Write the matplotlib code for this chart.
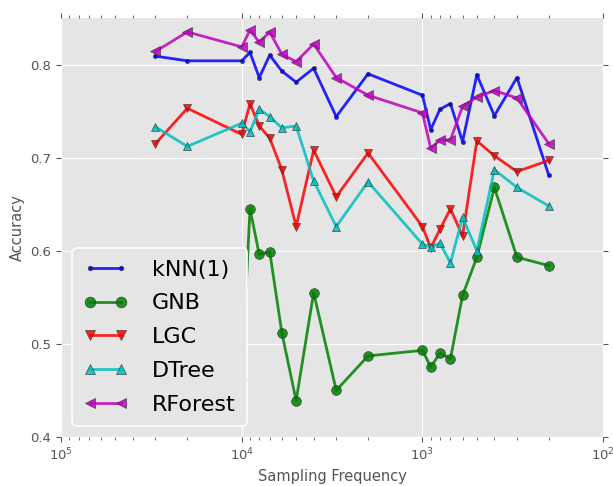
import numpy as np
import matplotlib
matplotlib.use("Agg")
import matplotlib.pyplot as plt

plt.style.use("ggplot")

freqs = [30000, 20000, 10000, 9000, 8000, 7000, 6000, 5000, 4000, 3000,
         2000, 1000, 900, 800, 700, 600, 500, 400, 300, 200]

knn = [0.809, 0.804, 0.804, 0.813, 0.786, 0.810, 0.793, 0.781, 0.796, 0.744,
       0.790, 0.767, 0.730, 0.752, 0.758, 0.717, 0.789, 0.745, 0.786, 0.681]
gnb = [0.455, 0.445, 0.461, 0.645, 0.596, 0.599, 0.512, 0.439, 0.555, 0.450,
       0.487, 0.493, 0.475, 0.490, 0.484, 0.552, 0.593, 0.668, 0.593, 0.584]
lgc = [0.715, 0.753, 0.725, 0.758, 0.734, 0.721, 0.687, 0.626, 0.708, 0.658,
       0.705, 0.626, 0.603, 0.623, 0.645, 0.616, 0.718, 0.702, 0.685, 0.697]
dtree = [0.733, 0.712, 0.737, 0.728, 0.752, 0.744, 0.732, 0.734, 0.675, 0.626,
         0.674, 0.607, 0.604, 0.608, 0.587, 0.636, 0.600, 0.687, 0.668, 0.648]
rforest = [0.814, 0.835, 0.819, 0.837, 0.824, 0.835, 0.811, 0.803, 0.822, 0.786,
           0.767, 0.748, 0.710, 0.719, 0.719, 0.755, 0.765, 0.772, 0.764, 0.715]

names = ["kNN(1)", "GNB", "LGC", "DTree", "RForest"]
series = [knn, gnb, lgc, dtree, rforest]
cl = ["#0000ff", "#008000", "#ff0000", "#00bfbf", "#bf00bf"]
mk = [".", "o", "v", "^", "<"]
ms = [6, 7, 6, 6, 7]

fig = plt.figure(figsize=(6.13, 4.86), dpi=100)
ax = fig.add_axes([0.0995, 0.101, 0.8845, 0.862])

for i in range(len(names)):
    ax.plot(freqs, series[i], marker=mk[i], color=cl[i], label=names[i],
            linewidth=2, markersize=ms[i], markeredgecolor="#333333",
            markeredgewidth=0.5, alpha=0.85)

ax.set_xscale("log")
ax.set_xlim(1e5, 1e2)
ax.set_ylim(0.4, 0.85)
ax.set_yticks([0.4, 0.5, 0.6, 0.7, 0.8])
ax.tick_params(axis="both", which="both", direction="out", colors="#555555",
               labelsize=9.5, top=True, right=True)
ax.set_xlabel("Sampling Frequency", fontsize=10.5, color="#555555")
ax.set_ylabel("Accuracy", fontsize=10.5, color="#555555")
for s in ax.spines.values():
    s.set_visible(False)

leg = ax.legend(loc="lower left", fontsize=16, numpoints=2, framealpha=1,
                handlelength=2.0, handletextpad=1.1, borderaxespad=0.5,
                labelspacing=0.62, borderpad=0.5, markerscale=1.1)
leg.get_frame().set_facecolor("#e5e5e5")
leg.get_frame().set_edgecolor("white")
leg.get_frame().set_linewidth(1.2)
for t in leg.get_texts():
    t.set_color("black")

fig.savefig("out.png", dpi=100)
